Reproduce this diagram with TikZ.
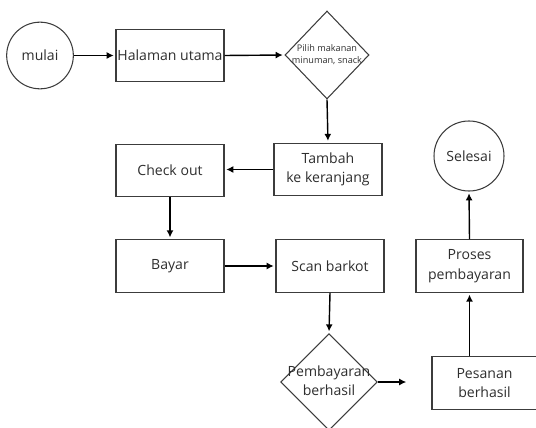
\documentclass[tikz,border=0pt]{standalone}
\usepackage{fontspec}
\setmainfont{Open Sans}
\usetikzlibrary{shapes.geometric,arrows.meta}
\definecolor{garis}{HTML}{3C3C3C}
\definecolor{tulisan}{HTML}{2E2E2E}
\newcommand{\nolebar}[1]{\makebox[0pt]{\begin{tabular}{@{}c@{}}#1\end{tabular}}}
\tikzset{
kotak/.style={draw=garis,line width=0.9pt,minimum width=3.24cm,minimum height=1.58cm,inner sep=0pt,text=tulisan,align=center,font=\fontsize{12}{16.6}\selectfont},
bulat/.style={draw=garis,line width=0.9pt,circle,minimum size=2cm,inner sep=0pt,text=tulisan,font=\fontsize{12}{16.6}\selectfont},
belah/.style={draw=garis,line width=0.9pt,diamond,aspect=1,inner sep=0pt,text=tulisan,font=\fontsize{12}{16.6}\selectfont},
panah/.style={line width=1.2pt,shorten >=1.5pt,-{Latex[length=2.1mm,width=2.1mm]}}
}
\begin{document}
\begin{tikzpicture}[x=0.03cm,y=-0.03cm]
\useasboundingbox(0,0)rectangle(536,428);
% baris atas
\node[bulat](mulai)at(40,55.5){mulai};
\node[kotak](halaman)at(170,55.5){Halaman utama};
\node[belah,minimum width=2.52cm,minimum height=2.64cm,font=\fontsize{7.8}{10.2}\selectfont](pilih)at(327,55){\nolebar{Pilih makanan\\minuman, snack}};
% baris tengah
\node[kotak](tambah)at(328,169.5){Tambah\\ke keranjang};
\node[kotak](checkout)at(170,170.5){Check out};
\node[bulat,minimum size=2.1cm](selesai)at(469,156){Selesai};
\node[kotak](bayar)at(170,266){Bayar};
\node[kotak](scan)at(330,266){Scan barkot};
\node[kotak,minimum width=3.21cm](proses)at(469.5,266){Proses\\pembayaran};
% baris bawah
\node[belah,minimum width=2.9cm,minimum height=2.9cm](bayarok)at(329,382){\nolebar{Pembayaran\\berhasil}};
\node[kotak,minimum width=3.15cm](pesanan)at(484.5,383){Pesanan\\berhasil};
\coordinate(ujung)at(408,382);
%\draw[panah](ujung)--(pesanan.west);
\draw[panah](mulai.east)--(halaman.west);
\draw[panah](halaman.east)--(pilih.west);
\draw[panah](pilih.south)--(tambah.north);
\draw[panah](tambah.west)--(tambah.west-|checkout.east);
\draw[panah](checkout.south)--(bayar.north);
\draw[panah](bayar.east)--(scan.west);
\draw[panah](scan.south)--(bayarok.north);
\draw[panah](bayarok.east)--(ujung);
\draw[panah](pesanan.north-|proses.south)--(proses.south);
\draw[panah](proses.north)--(selesai.south);
\end{tikzpicture}
\end{document}
